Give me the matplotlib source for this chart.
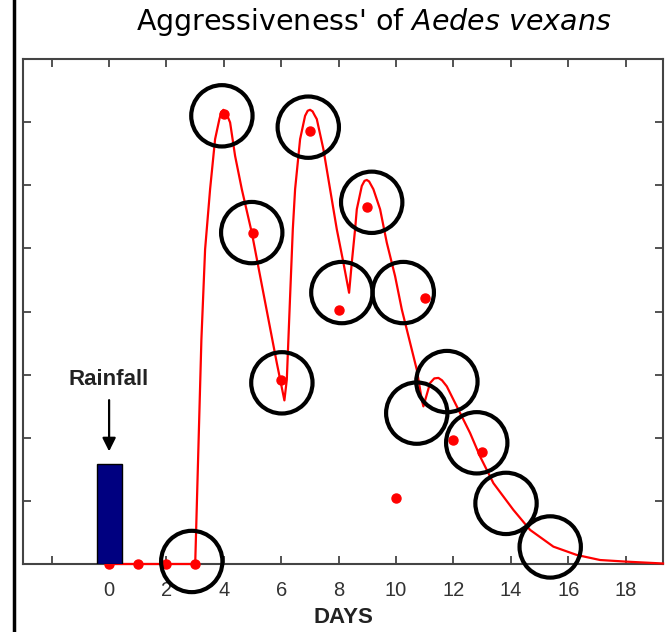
import matplotlib
matplotlib.use('Agg')
import matplotlib.pyplot as plt
from matplotlib.lines import Line2D

# observed aggressiveness (dots)
days = [0, 1, 2, 3, 4, 5, 6, 7, 8, 9, 10, 11, 12, 13]
aggr = [0, 0, 0, 0, 7.13, 5.25, 2.91, 6.86, 4.03, 5.65, 1.05, 4.22, 1.97, 1.77]

# fitted curve
curve_days = [0, 3.0, 3.216, 3.345, 3.519, 3.693, 3.843, 3.91, 3.983, 4.06, 4.13, 4.216,
              4.390, 4.624, 4.972, 5.843, 6.108, 6.192, 6.307, 6.401, 6.481, 6.655,
              6.829, 6.92, 7.003, 7.09, 7.16, 7.237, 7.467, 7.700, 7.934, 8.164, 8.362,
              8.456, 8.571, 8.631, 8.805, 8.90, 8.979, 9.06, 9.209, 9.443, 9.676,
              9.965, 10.199, 10.721, 10.895, 10.951, 11.185, 11.33, 11.474, 11.60,
              11.767, 12.230, 12.578, 12.927, 13.390, 14.087, 14.669, 15.481, 16.296,
              17.108, 18.038, 19.3]
curve_vals = [0, 0, 3.556, 4.984, 5.937, 6.730, 7.048, 7.16, 7.195, 7.16, 7.09, 6.995,
              6.465, 5.937, 5.249, 3.186, 2.592, 2.921, 4.243, 5.302, 5.937, 6.730,
              7.100, 7.18, 7.195, 7.17, 7.11, 7.048, 6.571, 5.937, 5.302, 4.773, 4.297,
              4.773, 5.302, 5.619, 5.989, 6.07, 6.084, 6.06, 5.937, 5.619, 5.090,
              4.560, 4.032, 3.079, 2.603, 2.497, 2.868, 2.94, 2.948, 2.91,
              2.814, 2.392, 2.075, 1.703, 1.281, 0.857, 0.540, 0.275, 0.143,
              0.063, 0.037, 0.008]

# black ring markers
circle_days = [3.93, 4.97, 6.02, 6.94, 9.15, 8.11, 10.25, 11.77, 10.72, 12.81, 13.83, 15.37, 2.88]
circle_vals = [7.10, 5.25, 2.87, 6.92, 5.73, 4.30, 4.30, 2.89, 2.39, 1.92, 0.96, 0.27, 0.04]

rain_day = [0]
rain_height = [1.59]

xticks = list(range(-2, 19, 2))
xlabels = ['' if t < 0 else str(t) for t in xticks]

fig = plt.figure(figsize=(6.66, 6.32), dpi=100)
ax = fig.add_axes([23 / 666, 1 - 564 / 632, 640 / 666, 505 / 632])

ax.plot(curve_days, curve_vals, color='red', lw=1.6, zorder=3, clip_on=False,
        solid_joinstyle='round')
ax.plot(days, aggr, 'o', color='red', markersize=6.5, zorder=3.5, clip_on=False)
ax.bar(rain_day, rain_height, width=0.87, color='#000080', edgecolor='black',
       linewidth=1, zorder=4)
ax.scatter(circle_days, circle_vals, s=1950, facecolors='none', edgecolors='black',
           linewidths=3, zorder=5, clip_on=False)

ax.annotate('', xy=(0, 1.74), xytext=(0, 2.64),
            arrowprops=dict(arrowstyle='-|>', color='black', lw=1.6, mutation_scale=20))
ax.text(0, 2.92, 'Rainfall', ha='center', va='center', fontsize=16,
        fontweight='bold', family='Liberation Sans', color='#222222')

ax.set_xlim(-3, 19.3)
ax.set_ylim(0, 8)
ax.set_xticks(xticks)
ax.set_xticklabels(xlabels, family='Liberation Sans', fontsize=14.5, color='#333333')
ax.set_yticks(range(1, 8))
ax.set_yticklabels([])
ax.tick_params(direction='in', length=6, width=1.3, color='#444444', pad=12,
               top=True, right=True)
for s in ax.spines.values():
    s.set_color('#444444')
    s.set_linewidth(1.5)

ax.set_xlabel('DAYS', family='Liberation Sans', fontsize=16, fontweight='bold',
              color='#222222', labelpad=5)

fig.text(374 / 666, 1 - 22 / 632, "Aggressiveness' of $\\mathit{Aedes\\ vexans}$",
         ha='center', va='center', fontsize=20.5)

fig.add_artist(Line2D([14 / 666, 14 / 666], [0, 1], color='black', lw=2.5,
                      transform=fig.transFigure))

plt.savefig('out.png', dpi=100)
